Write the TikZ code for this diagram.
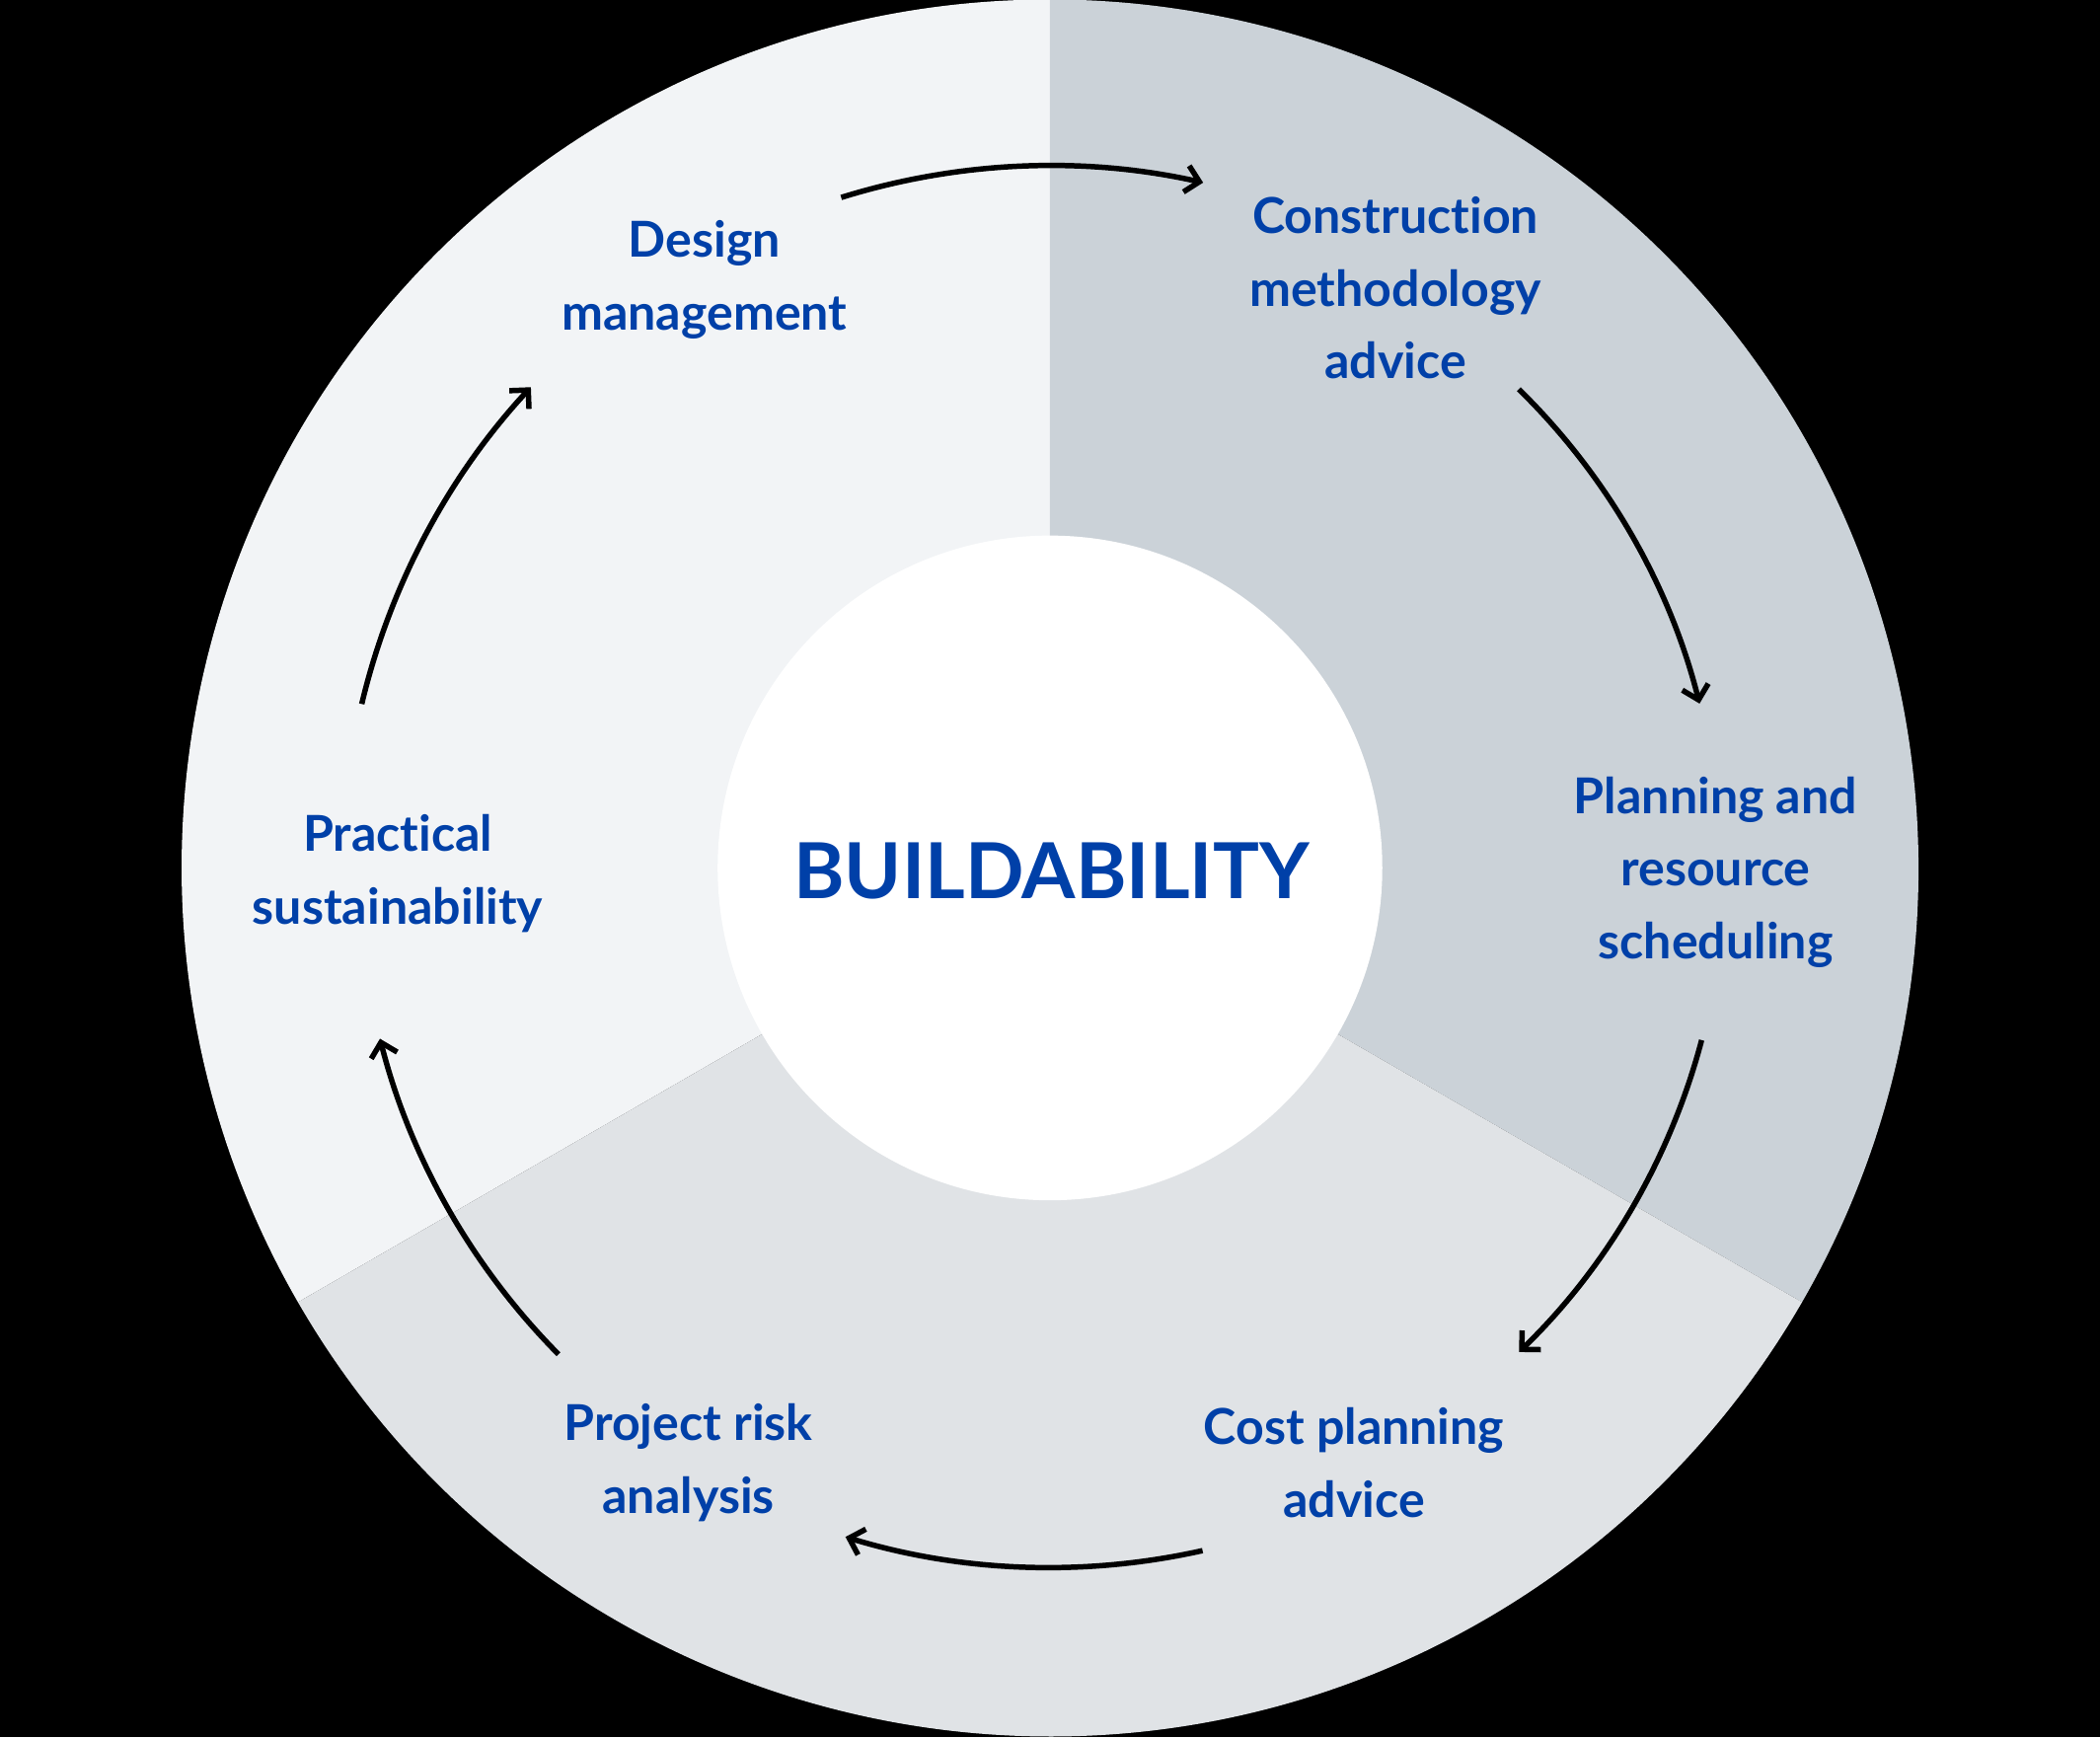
\documentclass[tikz,border=0pt]{standalone}
\usepackage{fontspec}
\setmainfont{Lato}[Ligatures={NoCommon,NoRare}]
\usetikzlibrary{arrows.meta}
\definecolor{bgblack}{HTML}{000000}
\definecolor{secA}{HTML}{F2F4F6}
\definecolor{secB}{HTML}{CBD2D8}
\definecolor{secC}{HTML}{E0E3E6}
\definecolor{txtblue}{HTML}{0040A8}
\tikzset{
  label/.style={text=txtblue, font=\fontsize{10.5}{15.4}\selectfont\bfseries, align=center, inner sep=0pt},
  flow/.style={line width=1.15pt, -{Straight Barb[length=1mm,width=2mm,line width=1.15pt]}},
}
\begin{document}
\begin{tikzpicture}[x=0.01cm,y=0.01cm]
\useasboundingbox (-784,-649) rectangle (784,648);
\fill[bgblack] (-784,-649) rectangle (784,648);
% sectors
\fill[secA] (0,0) -- (90:6.48cm) arc[start angle=90, end angle=210, radius=6.48cm] -- cycle;
\fill[secB] (0,0) -- (-30:6.48cm) arc[start angle=-30, end angle=90, radius=6.48cm] -- cycle;
\fill[secC] (0,0) -- (210:6.48cm) arc[start angle=210, end angle=330, radius=6.48cm] -- cycle;
\fill[white] (0,0) circle[radius=2.48cm];
% labels
\node[label, font=\fontsize{16.4}{20}\selectfont\bfseries] (build) at (1,-2) {BUILDABILITY};
\node[label] (design) at (-258,439) {Design\\management};
\node[label] (constr) at (258,433) {Construction\\methodology\\advice};
\node[label] (plan) at (497,-3) {Planning and\\resource\\scheduling};
\node[label] (cost) at (227,-444) {Cost planning\\advice};
\node[label] (risk) at (-270,-444) {Project risk\\analysis};
\node[label] (pract) at (-487,-4) {Practical\\sustainability};
% arrow start points
\coordinate (a1) at (107.3:5.24cm);
\coordinate (a2) at (45.6:5.00cm);
\coordinate (a3) at (-14.8:5.03cm);
\coordinate (a4) at (-77.4:5.22cm);
\coordinate (a5) at (-135.3:5.16cm);
\coordinate (a6) at (166.6:5.28cm);
\draw[flow] (a1) arc[start angle=107.3, end angle=77.4, radius=5.24cm];
\draw[flow] (a2) arc[start angle=45.6, end angle=14.2, radius=5.00cm];
\draw[flow] (a3) arc[start angle=-14.8, end angle=-45.9, radius=5.03cm];
\draw[flow] (a4) arc[start angle=-77.4, end angle=-107, radius=5.22cm];
\draw[flow] (a5) arc[start angle=-135.3, end angle=-165.7, radius=5.16cm];
\draw[flow] (a6) arc[start angle=166.6, end angle=137.2, radius=5.28cm];
\end{tikzpicture}
\end{document}
